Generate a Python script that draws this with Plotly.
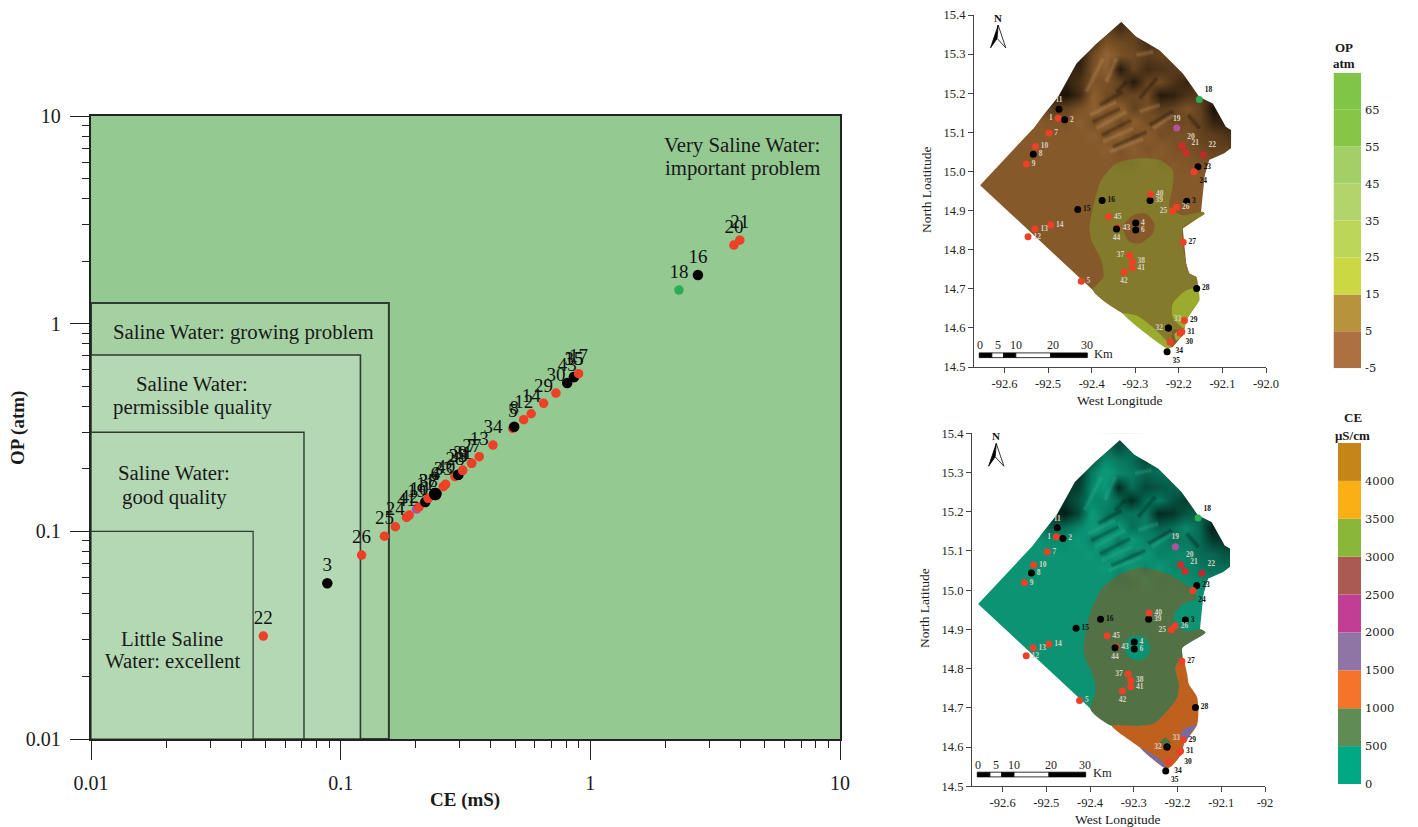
import plotly.graph_objects as go

W, H = 1418, 827
SERIF = "Liberation Serif"
RED, BLK, PUR, GRN = "#ee4026", "#000000", "#b5509f", "#2aae55"

# ---------- salinity diagram data ----------
sc_ids = ["22","3","26","25","24","41","42","19","10","11","37","38","4","6","33","40","28","39","23","31","9","27","7","13","34","5","8","12","14","29","30","43","35","15","17","18","16","20","21"]
sc_ce = [0.049,0.0884,0.1213,0.1497,0.1656,0.1836,0.1882,0.2015,0.206,0.2183,0.2244,0.2244,0.2393,0.2393,0.2576,0.2633,0.287,0.2958,0.2958,0.3081,0.3081,0.3347,0.3347,0.3589,0.4074,0.4887,0.4955,0.5408,0.5797,0.65,0.7282,0.8079,0.8599,0.8599,0.8974,2.265,2.697,3.758,3.97]
sc_op = [0.0313,0.0562,0.0769,0.0948,0.1052,0.1166,0.1197,0.128,0.131,0.1384,0.1442,0.1442,0.1513,0.1513,0.164,0.1684,0.1832,0.1874,0.1874,0.1966,0.1966,0.2126,0.2126,0.2287,0.2603,0.3133,0.3189,0.3447,0.3683,0.4134,0.4634,0.5176,0.5534,0.5534,0.5741,1.452,1.714,2.39,2.525]
sc_colors = [RED,BLK,RED,RED,RED,RED,RED,PUR,RED,BLK,RED,RED,BLK,BLK,RED,RED,RED,BLK,BLK,RED,RED,RED,RED,RED,RED,RED,BLK,RED,RED,RED,RED,BLK,BLK,BLK,RED,GRN,BLK,RED,RED]
sc_sizes = [12.5 if i in ("4","6") else (10.5 if c == BLK else 9.5) for i, c in zip(sc_ids, sc_colors)]

box_ce = [10, 0.156, 0.12, 0.0713, 0.0446]
box_op = [10, 1.256, 0.706, 0.30, 0.10]
box_fill = ["#94c992", "#a5d1a2", "#b3d8b3", "#b3d8b3", "#b3d8b3"]
box_width = [0, 2, 1.6, 1.4, 1.2]
minor_vals = [m * d for d in (0.01, 0.1, 1) for m in (2, 3, 4, 5, 6, 7, 8, 9)]

# ---------- station data (maps) ----------
st_ids = ["1","2","3","4","5","6","7","8","9","10","11","12","13","14","15","16","18","19","20","21","22","23","24","25","26","27","28","29","30","31","32","33","34","35","37","38","39","40","41","42","43","44","45"]
st_lon = [-92.477,-92.462,-92.182,-92.299,-92.424,-92.299,-92.498,-92.534,-92.55,-92.529,-92.475,-92.546,-92.53,-92.494,-92.432,-92.376,-92.153,-92.205,-92.193,-92.183,-92.144,-92.156,-92.165,-92.214,-92.205,-92.19,-92.159,-92.187,-92.197,-92.193,-92.224,-92.224,-92.22,-92.227,-92.313,-92.307,-92.266,-92.265,-92.307,-92.326,-92.341,-92.343,-92.361]
st_lat = [15.136,15.132,14.924,14.868,14.719,14.85,15.098,15.044,15.019,15.064,15.159,14.833,14.853,14.863,14.903,14.926,15.184,15.111,15.065,15.048,15.043,15.012,14.999,14.899,14.909,14.819,14.701,14.619,14.586,14.59,14.6,14.6,14.563,14.539,14.786,14.77,14.926,14.942,14.754,14.743,14.856,14.853,14.884]
st_colors = [RED,BLK,BLK,BLK,RED,BLK,RED,BLK,RED,RED,BLK,RED,RED,RED,BLK,BLK,GRN,PUR,"#d42a2a","#d42a2a","#c0282a",BLK,RED,RED,RED,RED,BLK,RED,RED,RED,BLK,BLK,RED,BLK,RED,RED,BLK,RED,RED,RED,RED,BLK,RED]
st_pos = ["middle left","middle right","middle right","middle right","middle right","middle right","middle right","middle right","middle right","middle right","top center","middle right","middle right","middle right","middle right","middle right","top right","top center","top right","top right","top right","middle right","bottom right","middle left","middle right","middle right","middle right","middle right","bottom right","middle right","middle left","top right","bottom right","bottom right","middle left","middle right","middle right","middle right","middle right","bottom center","middle right","bottom center","middle right"]
GT, BT = "#d8cfc0", "#111111"
st_txt = [GT,GT,BT,GT,GT,GT,GT,GT,GT,GT,GT,GT,GT,GT,BT,BT,BT,GT,GT,GT,GT,BT,BT,GT,GT,BT,BT,BT,BT,BT,GT,GT,BT,BT,GT,GT,GT,GT,GT,GT,GT,GT,GT]

# study-area outline
out_lon = [-92.656,-92.534,-92.511,-92.477,-92.435,-92.389,-92.332,-92.298,-92.244,-92.191,-92.153,-92.122,-92.092,-92.08,-92.08,-92.096,-92.13,-92.141,-92.149,-92.141,-92.191,-92.183,-92.176,-92.16,-92.153,-92.183,-92.191,-92.214,-92.225,-92.328,-92.397]
out_lat = [14.965,15.11,15.144,15.191,15.276,15.327,15.383,15.345,15.31,15.251,15.191,15.174,15.114,15.106,15.059,15.046,15.029,14.986,14.897,14.892,14.854,14.764,14.739,14.73,14.671,14.62,14.581,14.551,14.547,14.637,14.696]
# white area north of the outline
mask_lon = [-92.534,-92.511,-92.477,-92.435,-92.389,-92.332,-92.298,-92.244,-92.191,-92.153,-92.122,-92.092,-92.08,-92.08,-92.096,-92.13,-92.14,-92.0,-92.0,-92.668,-92.668]
mask_lat = [15.11,15.144,15.191,15.276,15.327,15.383,15.345,15.31,15.251,15.191,15.174,15.114,15.106,15.059,15.046,15.029,14.99,14.99,15.42,15.42,15.11]

# OP zones (top map)
op_olive_lon = [-92.397,-92.373,-92.378,-92.401,-92.405,-92.393,-92.378,-92.344,-92.298,-92.244,-92.214,-92.214,-92.222,-92.191,-92.145,-92.141,-92.191,-92.183,-92.176,-92.16,-92.157,-92.183,-92.214,-92.214,-92.187,-92.214,-92.218,-92.26,-92.298,-92.328]
op_olive_lat = [14.696,14.73,14.773,14.824,14.858,14.927,14.978,15.02,15.033,15.029,15.003,14.961,14.91,14.888,14.897,14.892,14.854,14.764,14.739,14.73,14.701,14.696,14.662,14.628,14.598,14.594,14.551,14.602,14.632,14.637]
op_lime1_lon = [-92.214,-92.183,-92.157,-92.153,-92.183,-92.187,-92.214]
op_lime1_lat = [14.662,14.696,14.701,14.671,14.62,14.598,14.628]
op_lime2_lon = [-92.328,-92.298,-92.26,-92.218,-92.225]
op_lime2_lat = [14.637,14.632,14.602,14.551,14.547]
op_lime3_lon = [-92.21,-92.191,-92.191,-92.206]
op_lime3_lat = [14.585,14.598,14.581,14.568]
op_island_lon = [-92.328,-92.305,-92.275,-92.256,-92.26,-92.29,-92.313]
op_island_lat = [14.858,14.888,14.892,14.867,14.841,14.816,14.82]

# CE zones (bottom map)
ce_green_lon = [-92.399,-92.388,-92.392,-92.415,-92.403,-92.376,-92.331,-92.285,-92.231,-92.178,-92.155,-92.186,-92.209,-92.197,-92.178,-92.148,-92.136,-92.189,-92.189,-92.205,-92.197,-92.201,-92.224,-92.254,-92.293,-92.35]
ce_green_lat = [14.696,14.739,14.777,14.841,14.931,14.999,15.042,15.057,15.046,15.012,14.978,14.965,14.935,14.905,14.895,14.901,14.892,14.852,14.829,14.803,14.76,14.726,14.692,14.66,14.654,14.654]
ce_orange_lon = [-92.189,-92.178,-92.174,-92.155,-92.155,-92.186,-92.197,-92.224,-92.285,-92.35,-92.293,-92.254,-92.224,-92.201,-92.197,-92.205]
ce_orange_lat = [14.829,14.786,14.76,14.726,14.658,14.607,14.573,14.545,14.598,14.654,14.654,14.66,14.692,14.726,14.76,14.803]
ce_pur1_lon = [-92.155,-92.186,-92.195,-92.18,-92.186,-92.17]
ce_pur1_lat = [14.658,14.645,14.62,14.615,14.598,14.635]
ce_pur2_lon = [-92.285,-92.239,-92.224,-92.235,-92.26]
ce_pur2_lat = [14.598,14.568,14.545,14.551,14.572]
ce_patch_lon = [-92.24,-92.228,-92.215,-92.222,-92.236]
ce_patch_lat = [14.613,14.624,14.612,14.602,14.604]
ce_island_lon = [-92.322,-92.31,-92.292,-92.273,-92.263,-92.27,-92.292,-92.312]
ce_island_lat = [14.855,14.88,14.886,14.878,14.852,14.83,14.82,14.83]

# terrain shading (+ dark, - light)
shade_lon = [-92.519,-92.488,-92.458,-92.427,-92.397,-92.366,-92.335,-92.305,-92.274,-92.244,-92.213,-92.182,-92.152,-92.121,-92.09,-92.06]
shade_lat = [14.99,15.024,15.058,15.092,15.127,15.161,15.195,15.229,15.263,15.297,15.331,15.366,15.4]
shade_z = [
    [0,0,0,0,0,0,0,0,0,0,0,0,0,0,0,0],
    [0,0,0,0,0,0,.05,.05,-.08,.05,0,.05,.1,.15,.1,0],
    [0,0,0,0,0,-.1,.1,-.1,.1,-.05,.1,.1,.2,.3,.3,.3],
    [0,0,0,0,-.1,.15,-.1,.15,-.05,.15,.1,.1,.3,.35,.5,.6],
    [0,.05,.05,-.1,.15,-.1,.2,-.1,.15,.1,.25,.2,.3,.7,.75,.7],
    [.2,.4,.3,.1,-.1,.1,-.1,.3,.15,.4,.3,.1,.3,.95,.7,.5],
    [.6,.8,.95,.6,-.1,.2,.3,.25,.2,.85,.75,.5,.4,.6,0,0],
    [.3,.6,.75,.5,.1,.1,.3,.85,.3,.2,.5,.7,.5,0,0,0],
    [0,.6,.7,.7,.1,-.1,.85,.3,.6,.5,.4,.3,0,0,0,0],
    [0,0,.4,.8,.2,-.2,.1,.2,.4,.3,.3,0,0,0,0,0],
    [0,0,0,.3,.5,.1,.2,.3,.6,.3,0,0,0,0,0,0],
    [0,0,0,0,.3,.3,.6,.3,.2,0,0,0,0,0,0,0],
    [0,0,0,0,0,.2,.5,.4,0,0,0,0,0,0,0,0],
]
light_streaks = [
    ([-92.404,-92.343],[15.144,15.178]),([-92.389,-92.32],[15.11,15.153]),([-92.374,-92.305],[15.076,15.11]),
    ([-92.358,-92.282],[15.05,15.084]),([-92.412,-92.374],[15.204,15.289]),([-92.29,-92.244],[15.153,15.17]),
    ([-92.259,-92.213],[15.11,15.144]),([-92.366,-92.343],[15.229,15.289]),([-92.297,-92.259],[15.298,15.306]),
]
dark_streaks = [
    ([-92.397,-92.335],[15.127,15.161]),([-92.377,-92.309],[15.093,15.131]),([-92.351,-92.274],[15.063,15.101]),
    ([-92.29,-92.251],[15.187,15.238]),([-92.343,-92.32],[15.204,15.229]),([-92.267,-92.213],[15.119,15.153]),
    ([-92.179,-92.152],[15.144,15.11]),([-92.381,-92.328],[15.17,15.204]),
]

# north arrow and scale bar
arrow_l_lon, arrow_l_lat = [-92.6145,-92.632,-92.617], [15.374,15.316,15.34]
arrow_r_lon, arrow_r_lat = [-92.6145,-92.617,-92.597], [15.374,15.34,15.316]
bar_lon = [-92.658,-92.629,-92.602,-92.574,-92.494,-92.41]
bar_fill = ["black","white","black","white","black"]
bar_text = ["0","5","10","20","30"]
bar_text_lon = [-92.656,-92.616,-92.573,-92.489,-92.411]

# colour bars
op_levels = [-5,5,15,25,35,45,55,65,75]
op_colors = ["#ad7040","#b8933c","#cbd843","#bcd657","#b3d46a","#a3cf67","#86c546","#80c547"]
ce_levels = [0,500,1000,1500,2000,2500,3000,3500,4000,4500]
ce_colors = ["#00a984","#5f8c54","#f5742a","#8f75a5","#c13e95","#ab5a52","#8ab639","#f9b015","#c48519"]

def dx(a, b): return [a / W, b / W]
def dy(top, bot): return [1 - bot / H, 1 - top / H]

fig = go.Figure()
annots, shapes = [], []

def label(px, py, text, size, bold=False, angle=0, color="#1a1a1a", family=SERIF):
    annots.append(dict(xref="paper", yref="paper", x=px / W, y=1 - py / H, text=f"<b>{text}</b>" if bold else text,
                       showarrow=False, textangle=angle, xanchor="center", yanchor="middle",
                       font=dict(family=family, size=size, color=color)))

# ---------- left chart ----------
for cx, oy, fc, lw in zip(box_ce, box_op, box_fill, box_width):
    fig.add_trace(go.Scatter(x=[0.01, cx, cx, 0.01, 0.01], y=[0.01, 0.01, oy, oy, 0.01], mode="lines", fill="toself",
                             fillcolor=fc, line=dict(color="#2f3a30", width=lw), hoverinfo="skip", xaxis="x", yaxis="y"))
fig.add_trace(go.Scatter(x=sc_ce, y=sc_op, mode="markers+text", text=sc_ids, textposition="top center",
                         marker=dict(color=sc_colors, size=sc_sizes, opacity=1, line=dict(width=0)),
                         textfont=dict(family=SERIF, size=19, color="#111111"),
                         cliponaxis=False, xaxis="x", yaxis="y"))
tickfont = dict(family=SERIF, size=20, color="#1a1a1a")
fig.update_layout(
    xaxis=dict(type="log", domain=dx(91, 840), range=[-2, 1], anchor="y", showgrid=False, zeroline=False, automargin=False,
               tickmode="array", tickvals=[0.01, 0.1, 1, 10], ticktext=["0.01", "0.1", "1", "10"],
               ticks="outside", ticklen=19, tickwidth=1.2, tickcolor="#222", showline=True, linecolor="#222", linewidth=1.6,
               mirror=True, tickfont=tickfont, ticklabelstandoff=6,
               minor=dict(tickmode="array", tickvals=minor_vals, ticks="outside", ticklen=7, tickwidth=1, tickcolor="#222", showgrid=False)),
    yaxis=dict(type="log", domain=dy(116, 739), range=[-2, 1], anchor="x", showgrid=False, zeroline=False, automargin=False,
               tickmode="array", tickvals=[0.01, 0.1, 1, 10], ticktext=["0.01", "0.1", "1", "10"],
               ticks="outside", ticklen=19, tickwidth=1.2, tickcolor="#222", showline=True, linecolor="#222", linewidth=2.4,
               mirror=True, tickfont=tickfont, ticklabelstandoff=5,
               minor=dict(tickmode="array", tickvals=minor_vals, ticks="outside", ticklen=7, tickwidth=1, tickcolor="#222", showgrid=False)),
    plot_bgcolor="white",
)
label(465, 800, "CE (mS)", 19, bold=True)
label(18, 428, "OP (atm)", 19, bold=True, angle=-90)
for px, py, t in [(742, 145, "Very Saline Water:"), (742, 168, "important problem"), (243, 332, "Saline Water: growing problem"),
                  (192, 384, "Saline Water:"), (192, 407, "permissible quality"), (174, 472, "Saline Water:"), (174, 497, "good quality"),
                  (172, 638, "Little Saline"), (172, 660, "Water: excellent")]:
    label(px, py, t, 20.8)

# ---------- maps ----------
def poly(lon, lat, color, xa, ya, smooth=True, opacity=1):
    fig.add_trace(go.Scatter(x=lon + lon[:1], y=lat + lat[:1], mode="lines", fill="toself", fillcolor=color, opacity=opacity,
                             line=dict(width=0, color=color, shape="spline" if smooth else "linear", smoothing=0.7),
                             hoverinfo="skip", xaxis=xa, yaxis=ya))

def soft_line(lon, lat, color, xa, ya, strength):
    for w, k in [(6, 0.3), (3.5, 0.35), (1.8, 0.4)]:
        fig.add_trace(go.Scatter(x=lon, y=lat, mode="lines", line=dict(color=color, width=w), opacity=strength * k,
                                 hoverinfo="skip", xaxis=xa, yaxis=ya))

def draw_map(xa, ya, xo, yo, base, zones, light_rgb):
    poly(out_lon, out_lat, base, xa, ya, smooth=False)
    for lon, lat, col in zones:
        poly(lon, lat, col, xa, ya)
    # everything from here on goes in an overlaying axis pair so the shading lies above the zones
    fig.add_trace(go.Heatmap(x=shade_lon, y=shade_lat, z=shade_z, zmin=-1, zmax=1, zsmooth="best", showscale=False, hoverinfo="skip",
                             colorscale=[[0, f"rgba({light_rgb},0.9)"], [0.5, f"rgba({light_rgb},0)"], [0.5001, "rgba(0,0,0,0)"], [1, "rgba(0,0,0,0.85)"]],
                             xaxis=xo, yaxis=yo))
    for lon, lat in dark_streaks:
        soft_line(lon, lat, "#000000", xo, yo, 0.28)
    for lon, lat in light_streaks:
        soft_line(lon, lat, f"rgb({light_rgb})", xo, yo, 0.35)
    poly(mask_lon, mask_lat, "#ffffff", xo, yo, smooth=False)
    fig.add_trace(go.Scatter(x=st_lon, y=st_lat, mode="markers+text", text=st_ids, textposition=st_pos,
                             marker=dict(color=st_colors, size=7),
                             textfont=dict(family=SERIF, size=7.5, color=st_txt, weight="bold"),
                             xaxis=xo, yaxis=yo))
    fig.add_trace(go.Scatter(x=arrow_l_lon + arrow_l_lon[:1], y=arrow_l_lat + arrow_l_lat[:1], mode="lines", fill="toself",
                             fillcolor="black", line=dict(color="black", width=0.8), xaxis=xo, yaxis=yo))
    fig.add_trace(go.Scatter(x=arrow_r_lon + arrow_r_lon[:1], y=arrow_r_lat + arrow_r_lat[:1], mode="lines", fill="toself",
                             fillcolor="white", line=dict(color="black", width=0.8), xaxis=xo, yaxis=yo))
    annots.append(dict(xref=xa, yref=ya, x=-92.616, y=15.393, text="<b>N</b>", showarrow=False,
                       font=dict(family=SERIF, size=11, color="#111")))
    for i, c in enumerate(bar_fill):
        shapes.append(dict(type="rect", xref=xa, yref=ya, x0=bar_lon[i], x1=bar_lon[i + 1], y0=14.524, y1=14.536,
                           fillcolor=c, line=dict(color="black", width=0.8)))
    for t, lon in zip(bar_text, bar_text_lon):
        annots.append(dict(xref=xa, yref=ya, x=lon, y=14.555, text=t, showarrow=False,
                           font=dict(family=SERIF, size=12, color="#222")))
    annots.append(dict(xref=xa, yref=ya, x=-92.372, y=14.534, text="Km", showarrow=False,
                       font=dict(family=SERIF, size=12.5, color="#222")))

draw_map("x2", "y2", "x6", "y6", "#86592b",
         [(op_olive_lon, op_olive_lat, "#837a2c"), (op_lime1_lon, op_lime1_lat, "#9aab2e"), (op_lime2_lon, op_lime2_lat, "#9aab2e"),
          (op_lime3_lon, op_lime3_lat, "#9aab2e"), (op_island_lon, op_island_lat, "#86592b")], "196,154,106")
draw_map("x3", "y3", "x7", "y7", "#0b9374",
         [(ce_green_lon, ce_green_lat, "#527246"), (ce_orange_lon, ce_orange_lat, "#c0601f"), (ce_pur1_lon, ce_pur1_lat, "#7a6a9e"),
          (ce_pur2_lon, ce_pur2_lat, "#7a6a9e"), (ce_patch_lon, ce_patch_lat, "#527246"), (ce_island_lon, ce_island_lat, "#0b9374")], "53,184,149")

map_font = dict(family=SERIF, size=12.5, color="#222")
lon_vals = [-92.6, -92.5, -92.4, -92.3, -92.2, -92.1, -92.0]
lat_vals = [14.5, 14.6, 14.7, 14.8, 14.9, 15.0, 15.1, 15.2, 15.3, 15.4]
def map_x(domain, anchor, last):
    return dict(domain=domain, range=[-92.67, -92.0], anchor=anchor, showgrid=False, zeroline=False, showline=True, linecolor="#444",
                linewidth=1.2, ticks="outside", ticklen=5, tickcolor="#444", tickmode="array", tickvals=lon_vals, automargin=False,
                ticktext=["-92.6", "-92.5", "-92.4", "-92.3", "-92.2", "-92.1", last], tickfont=map_font)
def map_y(domain, anchor):
    return dict(domain=domain, range=[14.5, 15.4], anchor=anchor, showgrid=False, zeroline=False, showline=True, linecolor="#444",
                linewidth=1.2, ticks="outside", ticklen=5, tickcolor="#444", tickmode="array", tickvals=lat_vals, automargin=False,
                ticktext=[f"{v:.1f}" for v in lat_vals], tickfont=map_font)
def over_x(domain, anchor, base):
    return dict(domain=domain, range=[-92.67, -92.0], anchor=anchor, overlaying=base, visible=False, automargin=False)
def over_y(domain, anchor, base):
    return dict(domain=domain, range=[14.5, 15.4], anchor=anchor, overlaying=base, visible=False, automargin=False)
fig.update_layout(xaxis2=map_x(dx(974, 1266), "y2", "-92.0"), yaxis2=map_y(dy(15, 367), "x2"),
                  xaxis3=map_x(dx(972, 1265), "y3", "-92"), yaxis3=map_y(dy(433.3, 786.3), "x3"),
                  xaxis6=over_x(dx(974, 1266), "y6", "x2"), yaxis6=over_y(dy(15, 367), "x6", "y2"),
                  xaxis7=over_x(dx(972, 1265), "y7", "x3"), yaxis7=over_y(dy(433.3, 786.3), "x7", "y3"))
label(1120, 400, "West Longitude", 13.5)
label(927, 190, "North Loatitude", 13.5, angle=-90)
label(1118, 819, "West Longitude", 13.5)
label(924, 608, "North Latitude", 13.5, angle=-90)

# ---------- colour bars ----------
def colour_bar(levels, colors, xa, ya):
    for lo, hi, c in zip(levels[:-1], levels[1:], colors):
        fig.add_trace(go.Bar(x=[0.5], y=[hi - lo], base=[lo], width=[1], marker=dict(color=c, line=dict(width=0)),
                             hoverinfo="skip", xaxis=xa, yaxis=ya))
cbar_font = dict(family="DejaVu Serif", size=11.5, color="#222")
def cb_axes(xdom, ydom, xname, yname, rng, vals):
    x = dict(domain=xdom, range=[0, 1], anchor=yname, visible=False, automargin=False)
    y = dict(domain=ydom, range=rng, anchor=xname, side="right", showgrid=False, zeroline=False, showline=False, ticks="", automargin=False,
             tickmode="array", tickvals=vals, ticktext=[str(v) for v in vals], tickfont=cbar_font, ticklabelstandoff=3)
    return x, y
colour_bar(op_levels, op_colors, "x4", "y4")
colour_bar(ce_levels, ce_colors, "x5", "y5")
x4, y4 = cb_axes(dx(1333.5, 1361), dy(72.7, 368.3), "x4", "y4", [-5, 75], op_levels[:-1])
x5, y5 = cb_axes(dx(1338, 1361), dy(443, 784), "x5", "y5", [0, 4500], ce_levels[:-1])
fig.update_layout(xaxis4=x4, yaxis4=y4, xaxis5=x5, yaxis5=y5)
label(1344, 47, "OP", 13, bold=True)
label(1344, 63, "atm", 13, bold=True)
label(1352.5, 417, "CE", 13, bold=True)
label(1352.5, 435, "μS/cm", 13, bold=True)

fig.update_layout(width=W, height=H, margin=dict(l=0, r=0, t=0, b=0), paper_bgcolor="white", showlegend=False,
                  barmode="overlay", annotations=annots, shapes=shapes)
fig.write_html("out.html", config=dict(displayModeBar=False),
               post_script="document.body.style.margin='0';document.body.style.overflow='hidden';")
